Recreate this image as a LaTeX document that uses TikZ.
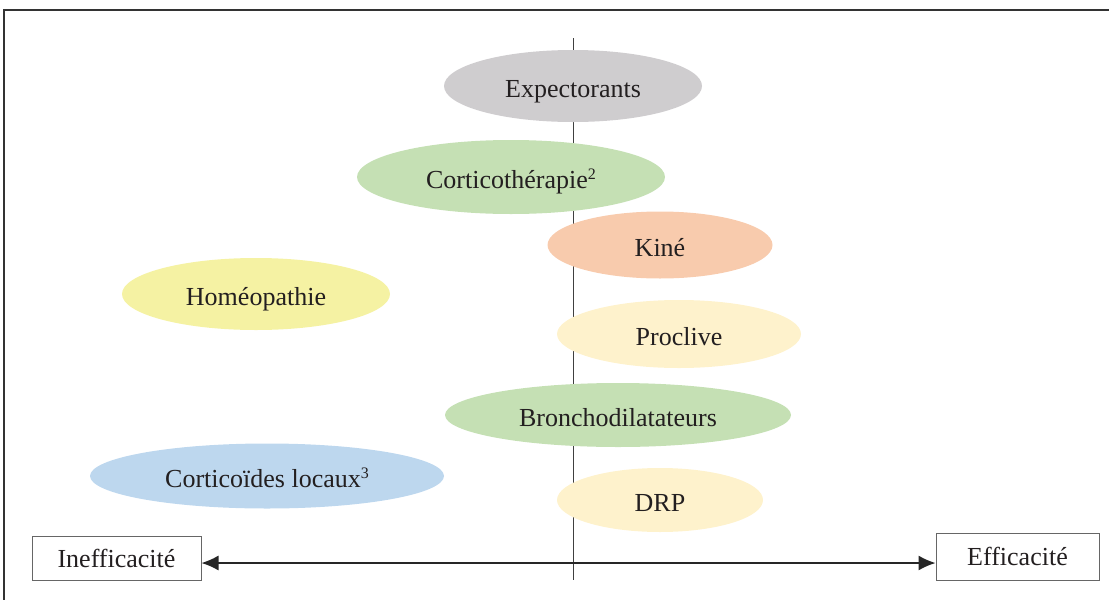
\documentclass[tikz,border=0pt]{standalone}
\usepackage{fontspec}
\setmainfont{Liberation Serif}
\usetikzlibrary{shapes.geometric,arrows.meta}
\definecolor{cgray}{HTML}{CFCDCF}
\definecolor{cgreen}{HTML}{C5E0B4}
\definecolor{corange}{HTML}{F8CBAD}
\definecolor{cyellow}{HTML}{F5F2A3}
\definecolor{clight}{HTML}{FEF2CC}
\definecolor{cblue}{HTML}{BDD7EE}
\definecolor{ctext}{HTML}{231F20}
\newcommand{\supr}[1]{\raisebox{9pt}{\fontsize{16}{16}\selectfont #1}}
\tikzset{
  blob/.style={ellipse, inner sep=0pt, text=ctext, text height=22pt, text depth=0pt, font=\fontsize{26}{30}\selectfont},
  endbox/.style={draw=black!60, line width=1pt, fill=white, inner sep=0pt, text=ctext, font=\fontsize{26}{30}\selectfont},
}
\begin{document}
\begin{tikzpicture}[x=1pt,y=-1pt]
\useasboundingbox (0,0) rectangle (1109,600);
\begin{scope}
\clip (0,0) rectangle (1109,600);
\draw[line width=1.6pt, black!80] (4,10) rectangle (1115,610);
\end{scope}
\coordinate (axtop) at (573,38);
\coordinate (axbot) at (573,580);
\draw[line width=1pt, black!75] (axtop) -- (axbot);
\node[blob, fill=cgray, minimum width=258pt, minimum height=72pt] (expe) at (573,86) {Expectorants};
\node[blob, fill=cgreen, minimum width=308pt, minimum height=74pt] (cort) at (511,177) {Corticothérapie\supr{2}};
\node[blob, fill=corange, minimum width=225pt, minimum height=67pt] (kine) at (660,245) {Kiné};
\node[blob, fill=cyellow, minimum width=268pt, minimum height=72pt] (homeo) at (256,294) {Homéopathie};
\node[blob, fill=clight, minimum width=244pt, minimum height=68pt] (procl) at (679,334) {Proclive};
\node[blob, fill=cgreen, minimum width=346pt, minimum height=64pt] (bronch) at (618,415) {Bronchodilatateurs};
\node[blob, fill=cblue, minimum width=354pt, minimum height=65pt] (cloc) at (267,476) {Corticoïdes locaux\supr{3}};
\node[blob, fill=clight, minimum width=206pt, minimum height=64pt] (drp) at (660,500) {DRP};
\node[endbox, minimum width=169pt, minimum height=44pt] (ineff) at (116.5,558) {Inefficacité};
\node[endbox, minimum width=163pt, minimum height=47pt] (eff) at (1017.5,556.5) {Efficacité};
\draw[line width=1.3pt, black!85, {Latex[length=17pt,width=15pt]}-{Latex[length=17pt,width=15pt]}] (ineff.east |- 0,563) -- (eff.west |- 0,563);
\end{tikzpicture}
\end{document}
